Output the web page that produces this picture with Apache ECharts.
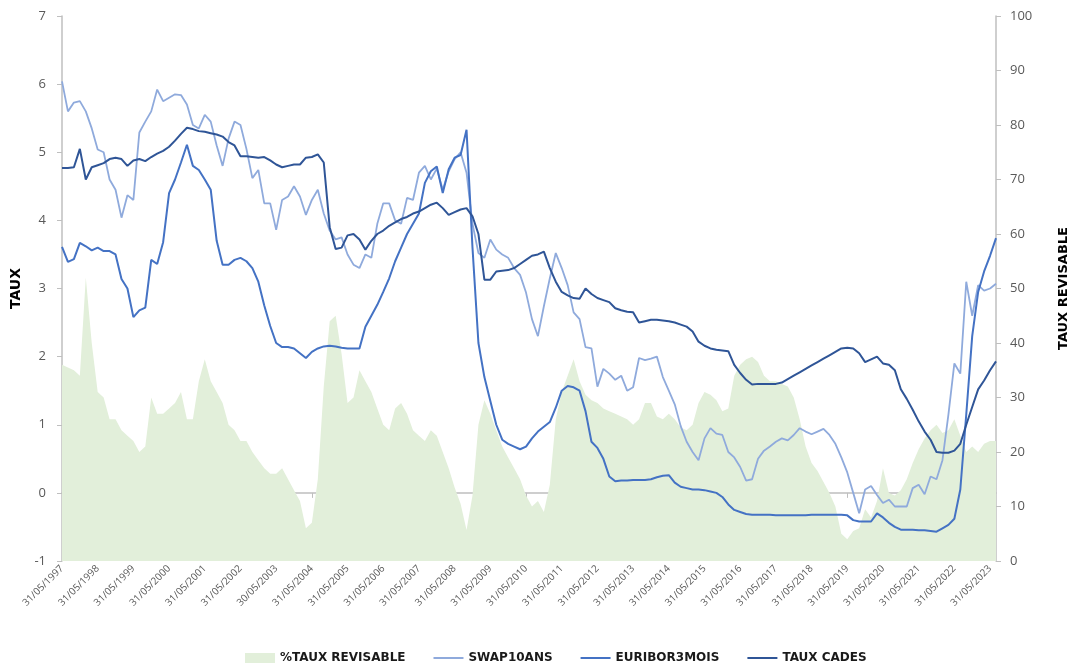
<!DOCTYPE html>
<html>
<head>
<meta charset="utf-8">
<script src="https://cdn.jsdelivr.net/npm/echarts@6/dist/echarts.min.js"></script>
<style>
html,body{margin:0;padding:0;background:#fff;}
#chart{width:1078px;height:665px;}
</style>
</head>
<body>
<div id="chart"></div>
<script>
// Yearly tick labels (31 May each year)
const tickLabels = ["31/05/1997","31/05/1998","31/05/1999","31/05/2000","31/05/2001","31/05/2002","30/05/2003","31/05/2004","31/05/2005","31/05/2006","31/05/2007","31/05/2008","31/05/2009","31/05/2010","31/05/2011","31/05/2012","31/05/2013","31/05/2014","31/05/2015","31/05/2016","31/05/2017","31/05/2018","31/05/2019","31/05/2020","31/05/2021","31/05/2022","31/05/2023"];
// bi-monthly intermediate month-ends between ticks
const midMonths = ["31/07/","30/09/","30/11/","31/01/+","31/03/+"];
const lastCategory = "31/07/2023";

// Series values (bi-monthly, one row per year starting at 31/05)
const tauxRevisable = [
  36,35.5,35,34,52,40,
  31,30,26,26,24,23,
  22,20,21,30,27,27,
  28,29,31,26,26,33,
  37,33,31,29,25,24,
  22,22,20,18.5,17,16,
  16,17,15,13,11,6,
  7,15,32,44,45,38,
  29,30,35,33,31,28,
  25,24,28,29,27,24,
  23,22,24,23,20,17,
  13.5,10.5,5.7,12,25,29.5,
  27,24,21,19,17,15,
  12,10,11,9,14,26,
  31,34,37,33,30.5,29.5,
  29,28,27.5,27,26.5,26,
  25,26,29,29,26.5,26,
  27,26,24.5,24,25,29,
  31,30.5,29.5,27.5,28,34,
  36,37,37.5,36.5,34,33,
  33,32.5,32,30,26,21,
  18,16.5,14.5,12.5,10,5,
  4,5.5,6,9.5,8,11,
  17,12.5,12,13,15,18,
  20.5,22.5,24,25,23.5,24,
  26,23,20,21,20,21.5,
  22,22
];
const swap10ans = [
  6.04,5.6,5.73,5.75,5.6,5.35,
  5.04,5.0,4.6,4.45,4.04,4.37,
  4.3,5.29,5.45,5.6,5.92,5.75,
  5.8,5.85,5.84,5.7,5.4,5.35,
  5.55,5.45,5.1,4.8,5.2,5.45,
  5.4,5.05,4.62,4.74,4.25,4.25,
  3.86,4.3,4.35,4.5,4.35,4.08,
  4.3,4.45,4.1,3.85,3.72,3.75,
  3.5,3.35,3.3,3.5,3.45,3.95,
  4.25,4.25,4.0,3.95,4.33,4.3,
  4.7,4.8,4.6,4.76,4.45,4.72,
  4.9,5.0,4.7,3.95,3.52,3.45,
  3.72,3.57,3.5,3.45,3.3,3.2,
  2.94,2.55,2.3,2.74,3.15,3.52,
  3.3,3.05,2.65,2.55,2.14,2.12,
  1.56,1.82,1.75,1.66,1.72,1.5,
  1.55,1.98,1.95,1.97,2.0,1.7,
  1.5,1.3,0.98,0.75,0.6,0.48,
  0.8,0.95,0.87,0.85,0.6,0.52,
  0.38,0.18,0.2,0.5,0.62,0.68,
  0.75,0.8,0.77,0.85,0.95,0.9,
  0.86,0.9,0.94,0.85,0.72,0.52,
  0.3,0.0,-0.3,0.05,0.1,-0.03,
  -0.15,-0.1,-0.2,-0.2,-0.2,0.07,
  0.12,-0.02,0.24,0.2,0.48,1.15,
  1.9,1.75,3.1,2.6,3.05,2.97,
  3.0,3.07
];
const euribor3mois = [
  3.61,3.39,3.43,3.67,3.62,3.56,
  3.6,3.55,3.55,3.5,3.14,3.0,
  2.58,2.68,2.72,3.42,3.36,3.68,
  4.4,4.6,4.85,5.11,4.8,4.74,
  4.6,4.45,3.7,3.35,3.35,3.42,
  3.45,3.4,3.3,3.1,2.75,2.45,
  2.2,2.14,2.14,2.12,2.05,1.98,
  2.07,2.12,2.15,2.16,2.15,2.13,
  2.12,2.12,2.12,2.44,2.6,2.76,
  2.95,3.15,3.4,3.6,3.8,3.95,
  4.1,4.55,4.72,4.79,4.4,4.75,
  4.92,4.96,5.33,3.6,2.2,1.7,
  1.35,1.0,0.78,0.72,0.68,0.64,
  0.68,0.8,0.9,0.97,1.04,1.25,
  1.5,1.57,1.55,1.5,1.2,0.75,
  0.66,0.5,0.24,0.17,0.18,0.18,
  0.19,0.19,0.19,0.2,0.23,0.25,
  0.26,0.15,0.09,0.07,0.05,0.05,
  0.04,0.02,0.0,-0.06,-0.17,-0.25,
  -0.28,-0.31,-0.32,-0.32,-0.32,-0.32,
  -0.33,-0.33,-0.33,-0.33,-0.33,-0.33,
  -0.32,-0.32,-0.32,-0.32,-0.32,-0.32,
  -0.33,-0.4,-0.42,-0.42,-0.42,-0.3,
  -0.36,-0.44,-0.5,-0.54,-0.54,-0.54,
  -0.55,-0.55,-0.56,-0.57,-0.52,-0.47,
  -0.38,0.05,1.15,2.3,2.95,3.25,
  3.48,3.74
];
const tauxCades = [
  4.77,4.77,4.78,5.05,4.6,4.78,
  4.81,4.84,4.9,4.92,4.9,4.8,
  4.88,4.9,4.87,4.93,4.98,5.02,
  5.08,5.17,5.27,5.36,5.34,5.31,
  5.3,5.28,5.26,5.23,5.15,5.1,
  4.94,4.94,4.93,4.92,4.93,4.88,
  4.82,4.78,4.8,4.82,4.82,4.92,
  4.93,4.97,4.85,3.9,3.58,3.6,
  3.78,3.8,3.72,3.57,3.7,3.8,
  3.85,3.92,3.97,4.02,4.05,4.1,
  4.13,4.18,4.23,4.26,4.18,4.08,
  4.12,4.16,4.18,4.06,3.8,3.13,
  3.13,3.25,3.26,3.27,3.3,3.36,
  3.42,3.48,3.5,3.54,3.3,3.1,
  2.95,2.9,2.86,2.85,3.0,2.92,
  2.86,2.83,2.8,2.71,2.68,2.66,
  2.65,2.5,2.52,2.54,2.54,2.53,
  2.52,2.5,2.47,2.44,2.37,2.22,
  2.16,2.12,2.1,2.09,2.08,1.88,
  1.76,1.66,1.59,1.6,1.6,1.6,
  1.6,1.62,1.67,1.72,1.77,1.82,
  1.87,1.92,1.97,2.02,2.07,2.12,
  2.13,2.12,2.05,1.92,1.96,2.0,
  1.9,1.88,1.8,1.52,1.38,1.22,
  1.05,0.9,0.78,0.6,0.59,0.59,
  0.62,0.72,1.0,1.26,1.52,1.65,
  1.8,1.93
];

const categories = [];
tickLabels.forEach((t, k) => {
  categories.push(t);
  if (k < tickLabels.length - 1) {
    const y = parseInt(t.slice(6), 10);
    midMonths.forEach(m => {
      categories.push(m.endsWith('+') ? m.slice(0, 6) + (y + 1) : m + y);
    });
  }
});
categories.push(lastCategory);

const chart = echarts.init(document.getElementById('chart'));
const labelColor = '#595959';
const axisColor = '#BFBFBF';
const boldFont = 'DejaVu Sans, sans-serif';
const lineIcon = 'path://M0,0L30,0L30,2L0,2Z';
chart.setOption({
  animation: false,
  backgroundColor: '#ffffff',
  grid: {left: 62, right: 73, top: 16, bottom: 104, containLabel: false},
  legend: {
    top: 647,
    left: 240,
    itemGap: 28,
    itemWidth: 30,
    itemHeight: 10,
    symbolKeepAspect: true,
    textStyle: {fontFamily: boldFont, fontWeight: 'bold', fontSize: 12, color: '#1a1a1a'},
    data: [
      {name: '%TAUX REVISABLE', icon: 'rect'},
      {name: 'SWAP10ANS', icon: lineIcon},
      {name: 'EURIBOR3MOIS', icon: lineIcon},
      {name: 'TAUX CADES', icon: lineIcon}
    ]
  },
  xAxis: {
    type: 'category',
    data: categories,
    boundaryGap: false,
    axisLine: {lineStyle: {color: axisColor, width: 1.5}},
    axisTick: {show: true, interval: 5, length: 5, lineStyle: {color: axisColor}},
    axisLabel: {interval: 5, rotate: 45, fontSize: 10, color: labelColor, margin: 6, fontFamily: 'Open Sans, sans-serif'},
    splitLine: {show: false}
  },
  yAxis: [
    {
      type: 'value', min: -1, max: 7, interval: 1, position: 'left',
      name: 'TAUX', nameLocation: 'middle', nameGap: 32, nameRotate: 90,
      nameTextStyle: {fontWeight: 'bold', fontSize: 14, color: '#000', fontFamily: boldFont},
      axisLine: {show: true, lineStyle: {color: axisColor, width: 1.5}},
      axisTick: {show: true, length: 5, lineStyle: {color: axisColor}},
      axisLabel: {fontSize: 13, color: labelColor, margin: 16, fontFamily: 'Open Sans, sans-serif'},
      splitLine: {show: false}
    },
    {
      type: 'value', min: 0, max: 100, interval: 10, position: 'right',
      name: 'TAUX REVISABLE', nameLocation: 'middle', nameGap: 61, nameRotate: 90,
      nameTextStyle: {fontWeight: 'bold', fontSize: 13, color: '#000', fontFamily: boldFont},
      axisLine: {show: true, lineStyle: {color: axisColor, width: 1.5}},
      axisTick: {show: true, length: 5, lineStyle: {color: axisColor}},
      axisLabel: {fontSize: 13, color: labelColor, margin: 14, fontFamily: 'Open Sans, sans-serif'},
      splitLine: {show: false}
    }
  ],
  series: [
    {
      name: '%TAUX REVISABLE', type: 'line', yAxisIndex: 1, data: tauxRevisable,
      symbol: 'none', lineStyle: {width: 0}, itemStyle: {color: '#E2EFDA'},
      areaStyle: {color: '#E2EFDA', opacity: 1}, z: 1
    },
    {
      name: 'SWAP10ANS', type: 'line', yAxisIndex: 0, data: swap10ans,
      symbol: 'none', lineStyle: {width: 1.8, color: '#8FAADC'}, itemStyle: {color: '#8FAADC'}, z: 2
    },
    {
      name: 'EURIBOR3MOIS', type: 'line', yAxisIndex: 0, data: euribor3mois,
      symbol: 'none', lineStyle: {width: 2, color: '#4472C4'}, itemStyle: {color: '#4472C4'}, z: 3
    },
    {
      name: 'TAUX CADES', type: 'line', yAxisIndex: 0, data: tauxCades,
      symbol: 'none', lineStyle: {width: 2, color: '#2F5597'}, itemStyle: {color: '#2F5597'}, z: 4
    }
  ]
});
</script>
</body>
</html>
